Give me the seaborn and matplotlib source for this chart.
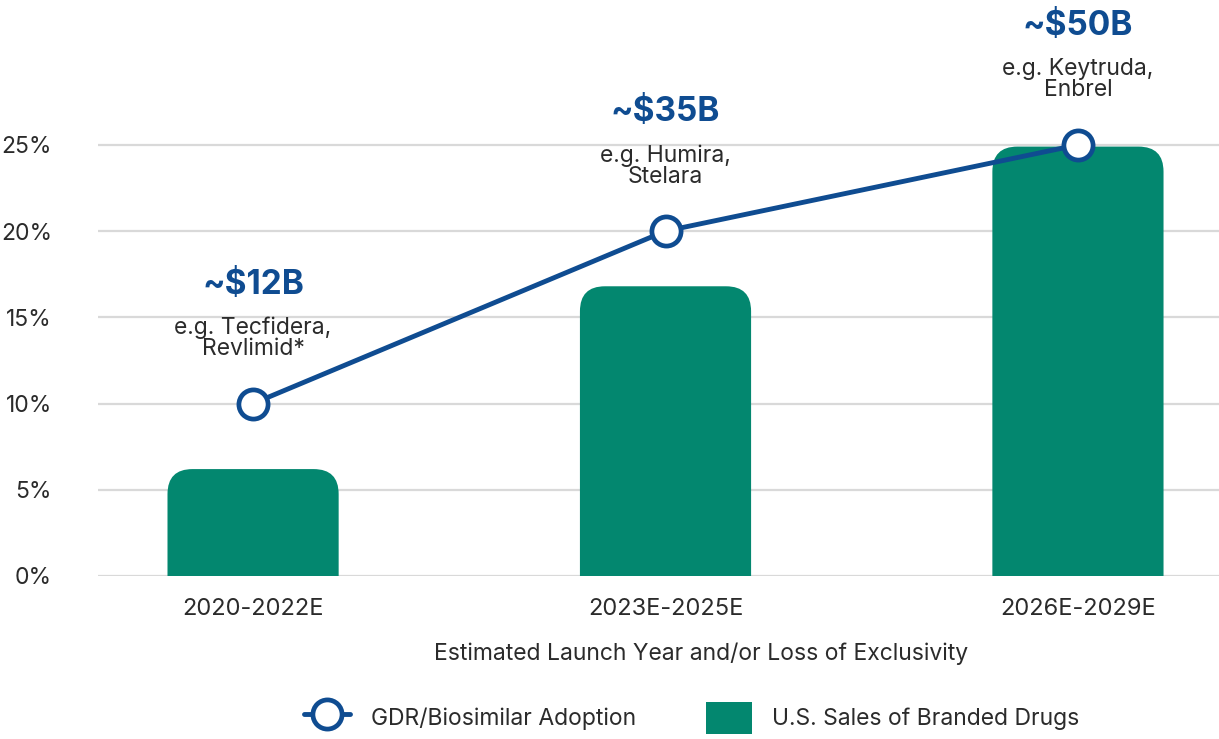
import matplotlib
matplotlib.use("Agg")
import matplotlib.pyplot as plt
import seaborn as sns
from matplotlib.patches import FancyBboxPatch, Patch
from matplotlib.lines import Line2D

categories = ["2020-2022E", "2023E-2025E", "2026E-2029E"]
branded_sales_share = [6.2, 16.8, 24.9]
gdr_adoption = [10, 20, 25]
sales_labels = ["~$12B", "~$35B", "~$50B"]
example_labels = ["e.g. Tecfidera,\nRevlimid*", "e.g. Humira,\nStelara", "e.g. Keytruda,\nEnbrel"]
yticks = [0, 5, 10, 15, 20, 25]
ytick_labels = ["0%", "5%", "10%", "15%", "20%", "25%"]

BAR = "#03876f"
NAVY = "#0f4c91"
TXT = "#2b2b2b"
GRID = "#d9d9d9"
FS = 16.5

sns.set_theme(style="white")
plt.rcParams["font.family"] = ["Inter", "DejaVu Sans"]

W, H = 1219, 739
fig = plt.figure(figsize=(W / 100, H / 100), dpi=100)
ax_left, ax_right, ax_bottom_px = 98, 1219, 576
ax = fig.add_axes([ax_left / W, 1 - ax_bottom_px / H, (ax_right - ax_left) / W, ax_bottom_px / H])

sns.barplot(x=categories, y=branded_sales_share, color=BAR, width=0.415, ax=ax, saturation=1)
sns.pointplot(x=categories, y=gdr_adoption, color=NAVY, ax=ax, markers="o",
              linestyles="-", linewidth=3.5, markersize=21,
              markerfacecolor="white", markeredgecolor=NAVY, markeredgewidth=3.4)

xlim = (-0.376, 2.342)
ylim = (0, 33.4)
ax.set_xlim(*xlim)
ax.set_ylim(*ylim)

# rounded-top bars
px_per_x = (ax_right - ax_left) / (xlim[1] - xlim[0])
px_per_y = ax_bottom_px / (ylim[1] - ylim[0])
r_px = 25
rx = r_px / px_per_x
aspect = px_per_x / px_per_y
for p in list(ax.patches):
    x0, w, h = p.get_x(), p.get_width(), p.get_height()
    p.remove()
    ry = rx * aspect
    fb = FancyBboxPatch((x0, -ry * 2), w, h + ry * 2,
                        boxstyle=f"round,pad=0,rounding_size={rx}",
                        mutation_aspect=aspect, facecolor=BAR, edgecolor="none",
                        zorder=2)
    ax.add_patch(fb)
    fb.set_clip_path(ax.patch)

for ln in ax.lines:
    ln.set_zorder(5)
    ln.set_clip_on(False)

ax.set_yticks(yticks)
ax.set_yticklabels(ytick_labels)
ax.yaxis.grid(True, color=GRID, linewidth=1.6, zorder=0)
ax.set_axisbelow(True)
ax.tick_params(axis="y", length=0, pad=33, labelsize=FS, labelcolor=TXT)
ax.tick_params(axis="x", length=0, pad=16, labelsize=FS + 0.5, labelcolor=TXT)
for s in ax.spines.values():
    s.set_visible(False)
ax.set_xlabel("")
ax.set_ylabel("")

for i, (sl, el) in enumerate(zip(sales_labels, example_labels)):
    ax.annotate(sl, (i, gdr_adoption[i]), xytext=(0, 119), textcoords="offset pixels",
                ha="center", va="center", fontsize=24, fontweight="bold", color=NAVY,
                annotation_clip=False)
    ax.annotate(el, (i, gdr_adoption[i]), xytext=(0, 65), textcoords="offset pixels",
                ha="center", va="center", fontsize=FS, color=TXT, linespacing=0.95,
                annotation_clip=False)

fig.text(701 / W, 1 - 654 / H, "Estimated Launch Year and/or Loss of Exclusivity",
         ha="center", va="center", fontsize=FS, color=TXT)

handles = [
    Line2D([0], [0], color=NAVY, linewidth=3.5, marker="o", markersize=21,
           markerfacecolor="white", markeredgecolor=NAVY, markeredgewidth=3.4),
    Patch(facecolor=BAR, edgecolor="none"),
]
fig.legend(handles, ["GDR/Biosimilar Adoption", "U.S. Sales of Branded Drugs"],
           loc="center", bbox_to_anchor=(692 / W, 1 - 718 / H), ncol=2, frameon=False,
           fontsize=FS, handlelength=2.0, handleheight=1.8, columnspacing=3.05,
           handletextpad=0.9, labelcolor=TXT)

fig.savefig("out.png", dpi=100)
